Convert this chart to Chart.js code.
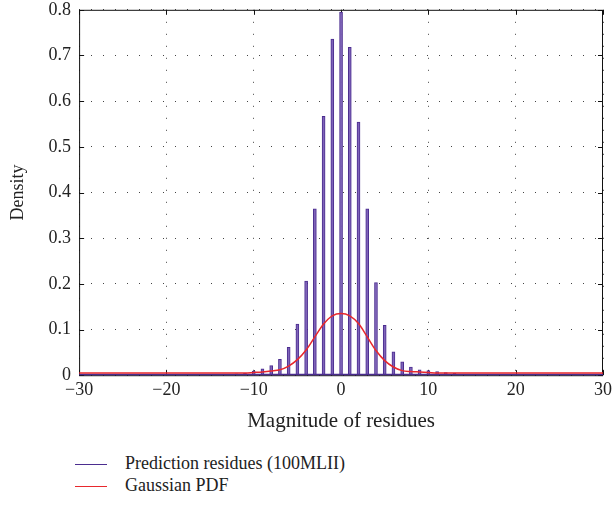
<!DOCTYPE html>
<html>
<head>
<meta charset="utf-8">
<script src="https://cdn.jsdelivr.net/npm/chart.js@4.4.1/dist/chart.umd.min.js"></script>
<style>
    body { margin: 0; background: #fff; font-family: "Liberation Serif", serif; }
    #wrap { position: relative; width: 616px; height: 449px; margin-top: -9px; }
    #legend { position: absolute; left: 75px; top: 452px; font-size: 18px; color: #222; }
    .item { height: 22px; line-height: 22px; white-space: nowrap; }
    .swatch { display: inline-block; width: 32px; height: 0; border-top: 1.5px solid; vertical-align: middle; margin-right: 18px; }
</style>
</head>
<body>
<div id="wrap"><canvas id="chart"></canvas></div>
<div id="legend">
    <div class="item"><span class="swatch" style="border-color:#4b2d8f"></span>Prediction residues (100MLII)</div>
    <div class="item"><span class="swatch" style="border-color:#e8282d"></span>Gaussian PDF</div>
</div>
<script>
// -------------------- Data --------------------
const binCenters = [-14,-13,-12,-11,-10,-9,-8,-7,-6,-5,-4,-3,-2,-1,0,1,2,3,4,5,6,7,8,9,10,11,12,13,14];
const residueDensity = [0.001,0.002,0.003,0.004,0.009,0.014,0.021,0.035,0.061,0.112,0.206,0.364,0.567,0.736,0.795,
                        0.718,0.554,0.364,0.203,0.109,0.051,0.029,0.018,0.012,0.010,0.008,0.006,0.004,0.002];

const gaussX = [-30,-20,-14,-12,-11,-10,-9,-8,-7,-6,-5,-4,-3,-2,-1,0,1,2,3,4,5,6,7,8,9,10,11,12,14,20,30];
const gaussY = [0.005,0.005,0.005,0.005,0.005,0.006,0.007,0.009,0.012,0.020,0.034,0.055,0.084,0.112,0.130,0.135,
                0.130,0.113,0.084,0.054,0.032,0.018,0.010,0.008,0.007,0.006,0.005,0.005,0.005,0.005,0.005];

const baselineX = [-30, 30];

const xTicks = [-30,-20,-10,0,10,20,30];
const yTicks = [0,0.1,0.2,0.3,0.4,0.5,0.6,0.7,0.8];

const purple = '#4b2d8f';
const red = '#e8282d';
const serif = 'Liberation Serif';

Chart.defaults.font.family = serif;
Chart.defaults.color = '#222';

// -------------------- Frame + inward ticks --------------------
const framePlugin = {
    id: 'frame',
    beforeDatasetsDraw(chart) {
        const {ctx, chartArea: a, scales} = chart;
        ctx.save();
        ctx.strokeStyle = '#111';
        ctx.lineWidth = 1;
        ctx.strokeRect(a.left + 0.5, a.top + 0.5, a.right - a.left - 1, a.bottom - a.top);
        ctx.beginPath();
        xTicks.forEach(v => {
            const px = Math.round(scales.x.getPixelForValue(v)) + 0.5;
            ctx.moveTo(px, a.bottom); ctx.lineTo(px, a.bottom - 5);
            ctx.moveTo(px, a.top); ctx.lineTo(px, a.top + 5);
        });
        yTicks.forEach(v => {
            const py = Math.round(scales.y.getPixelForValue(v)) + 0.5;
            ctx.moveTo(a.left, py); ctx.lineTo(a.left + 5, py);
            ctx.moveTo(a.right, py); ctx.lineTo(a.right - 5, py);
        });
        ctx.stroke();
        ctx.restore();
    }
};

// -------------------- Chart --------------------
new Chart(document.getElementById('chart'), {
    type: 'bar',
    data: {
        datasets: [
            {
                type: 'line',
                label: 'Gaussian PDF',
                data: gaussX.map((x, i) => ({ x, y: gaussY[i] })),
                borderColor: red,
                borderWidth: 1.5,
                pointRadius: 0,
                cubicInterpolationMode: 'monotone',
                order: 0
            },
            {
                type: 'line',
                label: 'baseline',
                data: baselineX.map(x => ({ x, y: 0 })),
                borderColor: purple,
                borderWidth: 3,
                pointRadius: 0,
                order: 1
            },
            {
                label: 'Prediction residues (100MLII)',
                data: binCenters.map((x, i) => ({ x, y: residueDensity[i] })),
                backgroundColor: 'rgba(128,100,185,0.95)',
                borderColor: purple,
                borderWidth: 1,
                barThickness: 3,
                order: 2
            }
        ]
    },
    options: {
        responsive: true,
        maintainAspectRatio: false,
        animation: false,
        layout: { padding: { top: 2, right: 12, left: 3, bottom: 2 } },
        plugins: { legend: { display: false }, tooltip: { enabled: false } },
        scales: {
            x: {
                type: 'linear',
                min: -30, max: 30,
                offset: false,
                grid: { offset: false, color: '#444', lineWidth: 1, drawTicks: false },
                border: { display: false, dash: [1, 11] },
                afterBuildTicks: axis => { axis.ticks = xTicks.map(v => ({ value: v })); },
                ticks: {
                    font: { family: serif, size: 18 },
                    color: '#222', padding: 4, maxRotation: 0,
                    callback: v => String(v).replace('-', '\u2212')
                },
                title: { display: true, text: 'Magnitude of residues',
                         font: { family: serif, size: 21 }, color: '#222', padding: { top: 4 } }
            },
            y: {
                min: 0, max: 0.8,
                grid: { color: '#444', lineWidth: 1, drawTicks: false },
                border: { display: false, dash: [1, 11] },
                afterBuildTicks: axis => { axis.ticks = yTicks.map(v => ({ value: v })); },
                ticks: { font: { family: serif, size: 18 }, color: '#222', padding: 8 },
                title: { display: true, text: 'Density',
                         font: { family: serif, size: 18 }, color: '#222', padding: { bottom: 12 } }
            }
        }
    },
    plugins: [framePlugin]
});
</script>
</body>
</html>
